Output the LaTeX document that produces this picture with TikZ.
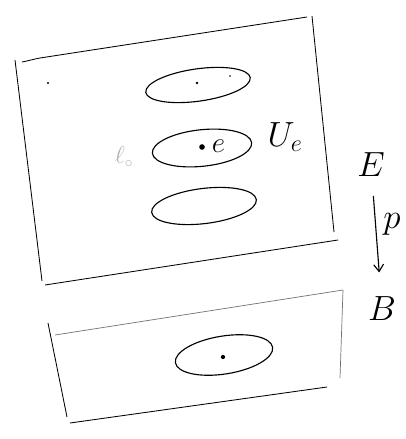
\documentclass[tikz,border=0pt]{standalone}
\usepackage{amsmath,amssymb}
\usetikzlibrary{arrows.meta,positioning,shapes.geometric}

\begin{document}
\begin{tikzpicture}[x=0.025cm, y=-0.025cm,
        edge/.style={line width=0.6pt, black},
        faint/.style={line width=0.5pt, black!55},
        disc/.style={ellipse, draw, line width=0.8pt, inner sep=0pt},
        pt/.style={circle, fill, inner sep=0pt, minimum size=#1},
        lbl/.style={font=\fontsize{24}{26}\selectfont},
        arr/.style={-{Straight Barb[length=5pt, width=7pt]}, line width=0.8pt}
      ]
        \useasboundingbox (0,0) rectangle (406,439);

        % upper sheet E
        \draw[edge] (15,60) -- (42,281);
        \draw[edge] (22,62) to[out=10, in=190] (40,58) -- (307,17);
        \draw[edge] (312,16) -- (334,232);
        \draw[edge] (338,240) -- (45,285);

        \node[disc, minimum width=75pt, minimum height=23pt, rotate=8] (sheetA) at (198,85) {};
        \node[disc, minimum width=71pt, minimum height=26pt, rotate=6] (sheetB) at (202,148) {};
        \node[disc, minimum width=75pt, minimum height=25pt, rotate=7] (sheetC) at (204,206) {};

        \node[pt=2pt]   (a1) at (197,83) {};
        \node[pt=1.2pt] (a2) at (230,76) {};
        \node[pt=1.5pt] (a0) at (48,83) {};
        \node[pt=4pt]   (e1) at (202,147) {};
        \node[lbl, font=\fontsize{20}{22}\selectfont, anchor=west] (e) at (207,146) {$e$};
        \node[lbl] (Ue) at (285,137) {$U_e$};
        \node[lbl, font=\fontsize{16}{18}\selectfont, text=black!30] (mark) at (124,157) {$\ell_{\circ}$};

        % lower sheet B
        \draw[edge] (48,323) -- (67,417);
        \draw[faint] (55,335) -- (343,290);
        \draw[faint] (343,290) -- (340,378);
        \draw[edge] (70,423) -- (327,387);

        \node[disc, minimum width=70pt, minimum height=27pt, rotate=9] (base) at (224,355) {};
        \node[pt=3pt] (b1) at (223,357) {};

        % projection
        \node[lbl] (E) at (371,165) {$E$};
        \node[lbl] (B) at (382,309) {$B$};
        \node[lbl] (p) at (392,224) {$p$};

        \draw[arr, shorten <=10pt, shorten >=14pt] (E) -- (B);
      \end{tikzpicture}
\end{document}
